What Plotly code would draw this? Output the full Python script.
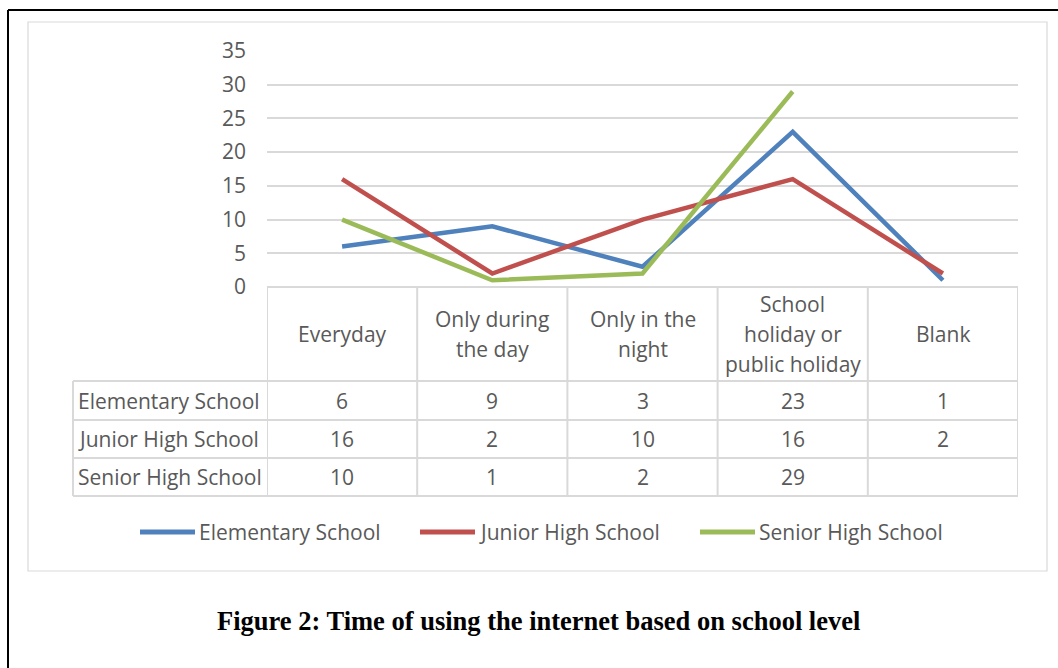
import plotly.graph_objects as go

# ---- data ----
categories = ["Everyday", "Only during the day", "Only in the night",
              "School holiday or public holiday", "Blank"]
category_header_lines = [["Everyday"], ["Only during", "the day"], ["Only in the", "night"],
                         ["School", "holiday or", "public holiday"], ["Blank"]]
series_names = ["Elementary School", "Junior High School", "Senior High School"]
elementary = [6, 9, 3, 23, 1]
junior_high = [16, 2, 10, 16, 2]
senior_high = [10, 1, 2, 29, None]
series_values = [elementary, junior_high, senior_high]
series_colors = ["#4F81BD", "#C0504D", "#9BBB59"]
y_ticks = [0, 5, 10, 15, 20, 25, 30, 35]
caption = "Figure 2: Time of using the internet based on school level"

# ---- page geometry (pixels) ----
W, H = 1058, 668
PLOT_L, PLOT_R = 267, 1018
PLOT_T, PLOT_B = 51, 287
ROW_LABEL_L = 73
HEADER_B = 381
ROW_LINES = [381, 420, 458, 496]
GRID = "#D9D9D9"
TEXT = "#595959"
FONT = "Open Sans"
FS = 21


def px(x):
    return x / W


def py(y):
    return 1 - y / H


fig = go.Figure()

for name, vals, col in zip(series_names, series_values, series_colors):
    fig.add_trace(go.Scatter(
        x=categories, y=vals, mode="lines", name=name,
        line=dict(color=col, width=4.5), connectgaps=False,
        showlegend=False, hoverinfo="x+y+name"))

shapes = []
annotations = []


def text(x, y, s, xref="paper", xanchor="center", size=FS, color=TEXT, family=FONT):
    annotations.append(dict(x=x, xref=xref, xanchor=xanchor, y=y, yref="paper",
                            yanchor="middle", text=s, showarrow=False,
                            font=dict(family=family, size=size, color=color)))


# outer frame (top and left edges) and chart-area border
shapes.append(dict(type="line", xref="paper", yref="paper",
                   x0=px(8), x1=1, y0=py(10), y1=py(10),
                   line=dict(color="black", width=2)))
shapes.append(dict(type="line", xref="paper", yref="paper",
                   x0=px(8), x1=px(8), y0=py(10), y1=0,
                   line=dict(color="black", width=2)))
shapes.append(dict(type="rect", xref="paper", yref="paper",
                   x0=px(28), x1=px(1047), y0=py(22), y1=py(571),
                   line=dict(color=GRID, width=1.2)))

# data table grid: vertical column boundaries
n = len(categories)
for i in range(n + 1):
    shapes.append(dict(type="line", xref="x", yref="paper",
                       x0=i - 0.5, x1=i - 0.5, y0=py(PLOT_B), y1=py(ROW_LINES[-1]),
                       line=dict(color=GRID, width=2), layer="below"))
shapes.append(dict(type="line", xref="paper", yref="paper",
                   x0=px(ROW_LABEL_L), x1=px(ROW_LABEL_L),
                   y0=py(HEADER_B), y1=py(ROW_LINES[-1]),
                   line=dict(color=GRID, width=2), layer="below"))
# horizontal lines
shapes.append(dict(type="line", xref="x", yref="paper",
                   x0=-0.5, x1=n - 0.5, y0=py(PLOT_B), y1=py(PLOT_B),
                   line=dict(color=GRID, width=2), layer="below"))
for yl in ROW_LINES:
    shapes.append(dict(type="line", xref="paper", yref="paper",
                       x0=px(ROW_LABEL_L), x1=px(PLOT_R), y0=py(yl), y1=py(yl),
                       line=dict(color=GRID, width=2), layer="below"))

# header cells
header_mid = (PLOT_B + HEADER_B) / 2
line_gap = 30
for cat, lines in zip(categories, category_header_lines):
    k = len(lines)
    for j, txt in enumerate(lines):
        yy = header_mid + (j - (k - 1) / 2) * line_gap
        text(cat, py(yy), txt, xref="x")

# value rows
for r, (name, vals) in enumerate(zip(series_names, series_values)):
    ymid = (ROW_LINES[r] + ROW_LINES[r + 1]) / 2
    text(px(ROW_LABEL_L + 3), py(ymid), name, xanchor="left")
    for cat, v in zip(categories, vals):
        if v is None:
            continue
        text(cat, py(ymid), str(v), xref="x")

# legend
legend_x = [140, 420, 700]
for name, col, lx in zip(series_names, series_colors, legend_x):
    shapes.append(dict(type="line", xref="paper", yref="paper",
                       x0=px(lx), x1=px(lx + 55), y0=py(532), y1=py(532),
                       line=dict(color=col, width=5)))
    text(px(lx + 57), py(532), name, xanchor="left")

# caption
text(px(538), py(621), "<b>" + caption + "</b>", size=26.5, color="black",
     family="Liberation Serif")

fig.update_layout(
    width=W, height=H,
    margin=dict(l=0, r=0, t=0, b=0, autoexpand=False),
    paper_bgcolor="white", plot_bgcolor="white",
    showlegend=False,
    shapes=shapes, annotations=annotations,
    xaxis=dict(domain=[px(PLOT_L), px(PLOT_R)], type="category",
               range=[-0.5, n - 0.5], showticklabels=False, showgrid=False,
               zeroline=False, showline=False, fixedrange=True, automargin=False),
    yaxis=dict(domain=[py(PLOT_B), py(PLOT_T)], range=[0, 35],
               tickvals=y_ticks, showgrid=True, gridcolor=GRID, gridwidth=1.5,
               zeroline=False, showline=False, ticks="",
               ticklabelstandoff=20, automargin=False,
               tickfont=dict(family=FONT, size=FS, color=TEXT), fixedrange=True),
)

fig.write_html("out.html")
